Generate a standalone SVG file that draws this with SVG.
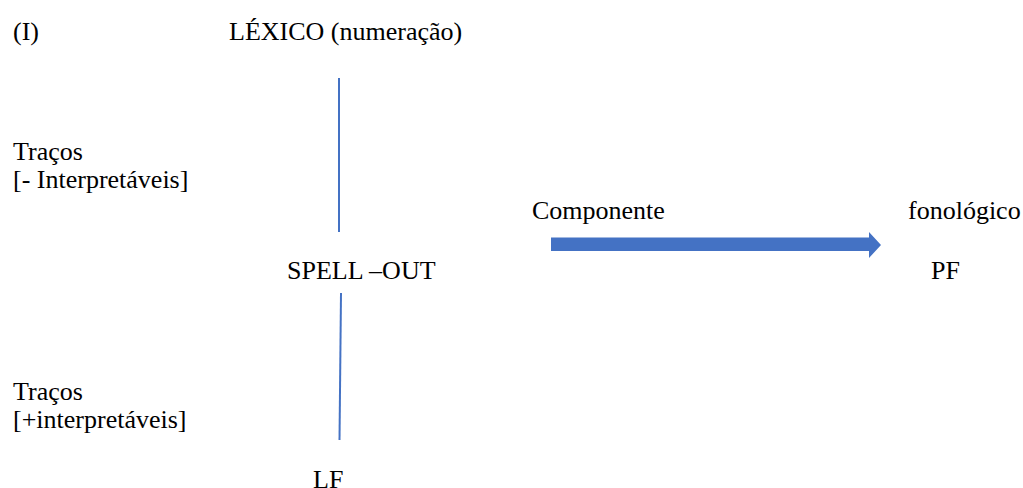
<svg xmlns="http://www.w3.org/2000/svg" width="1023" height="488" viewBox="0 0 1023 488">
  <style>
    text { font-family: "Liberation Serif", "Times New Roman", serif; font-size: 26px; fill: #000; }
    .link { stroke: #4472C4; stroke-width: 2; fill: none; }
  </style>
  <rect width="1023" height="488" fill="#fff"/>
  <g id="label-i"><text x="13" y="40">(I)</text></g>
  <g id="lexico"><text x="229" y="40">LÉXICO (numeração)</text></g>
  <g id="tracos-neg">
    <text x="13" y="160">Traços</text>
    <text x="13" y="188">[- Interpretáveis]</text>
  </g>
  <g id="spell-out"><text x="287" y="279">SPELL –OUT</text></g>
  <g id="componente"><text x="532" y="219">Componente</text></g>
  <g id="fonologico"><text x="908" y="219">fonológico</text></g>
  <g id="pf"><text x="931" y="279">PF</text></g>
  <g id="tracos-pos">
    <text x="13" y="400">Traços</text>
    <text x="13" y="428">[+interpretáveis]</text>
  </g>
  <g id="lf"><text x="313" y="488">LF</text></g>
  <g id="connectors">
    <line class="link" x1="339" y1="78" x2="339" y2="232"/>
    <line class="link" x1="341" y1="293" x2="339.5" y2="440"/>
    <path d="M551 237.5 H869 V232 L881 245 L869 258 V251 H551 Z" fill="#4472C4"/>
  </g>
</svg>
